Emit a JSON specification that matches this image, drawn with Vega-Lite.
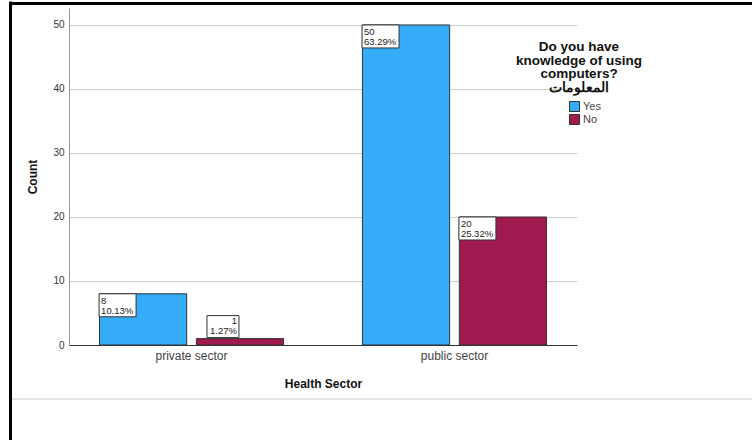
{
  "$schema": "https://vega.github.io/schema/vega-lite/v6.json",
  "width": 508,
  "height": 337,
  "autosize": {"type": "none"},
  "padding": {"left": 69, "top": 8, "right": 175, "bottom": 95},
  "background": "white",
  "config": {
    "font": "Liberation Sans",
    "view": {"stroke": null}
  },
  "data": {
    "values": [
      {"sector": "private sector", "answer": "Yes", "count": 8, "label": "8\n10.13%", "box": "inside"},
      {"sector": "private sector", "answer": "No", "count": 1, "label": "1\n1.27%", "box": "above"},
      {"sector": "public sector", "answer": "Yes", "count": 50, "label": "50\n63.29%", "box": "inside"},
      {"sector": "public sector", "answer": "No", "count": 20, "label": "20\n25.32%", "box": "inside"}
    ]
  },
  "layer": [
    {
      "encoding": {
        "x": {
          "field": "sector",
          "type": "nominal",
          "sort": ["private sector", "public sector"],
          "scale": {"paddingInner": 0.3, "paddingOuter": 0.116},
          "axis": {
            "title": "Health Sector",
            "titleFontSize": 12,
            "titleFontWeight": "bold",
            "titleColor": "#111",
            "titlePadding": 17,
            "labelAngle": 0,
            "labelFontSize": 12,
            "labelColor": "#444",
            "labelPadding": 5,
            "ticks": false,
            "domainColor": "#333",
            "domainWidth": 1
          }
        },
        "xOffset": {
          "field": "answer",
          "type": "nominal",
          "sort": ["Yes", "No"],
          "scale": {"domain": ["Yes", "No"], "paddingInner": 0.1, "paddingOuter": 0}
        },
        "y": {
          "field": "count",
          "type": "quantitative",
          "scale": {"domain": [0, 52.65], "nice": false},
          "axis": {
            "title": "Count",
            "titleFontSize": 12,
            "titleFontWeight": "bold",
            "titleColor": "#111",
            "titlePadding": 13,
            "values": [0, 10, 20, 30, 40, 50],
            "labelFontSize": 10,
            "labelColor": "#333",
            "labelPadding": 5,
            "ticks": false,
            "domainColor": "#999",
            "gridColor": "#cfcfcf",
            "gridWidth": 1
          }
        }
      },
      "layer": [
        {
          "mark": {"type": "bar", "stroke": "#333", "strokeWidth": 1},
          "encoding": {
            "color": {
              "field": "answer",
              "type": "nominal",
              "sort": ["Yes", "No"],
              "scale": {"domain": ["Yes", "No"], "range": ["#35acf8", "#a11a4f"]},
              "legend": {
                "title": ["Do you have", "knowledge of using", "computers?", "المعلومات"],
                "titleFontSize": 13.5,
                "titleFontWeight": "bold",
                "titleColor": "#111",
                "titleAlign": "center",
                "titleAnchor": "middle",
                "titleLineHeight": 13.5,
                "titlePadding": 7,
                "orient": "none",
                "legendX": 447,
                "legendY": 32,
                "symbolType": "square",
                "symbolSize": 100,
                "symbolStrokeColor": "#333",
                "symbolStrokeWidth": 1,
                "symbolOffset": 11,
                "labelFontSize": 11,
                "labelColor": "#444",
                "labelOffset": 3,
                "rowPadding": -7
              }
            }
          }
        },
        {
          "mark": {"type": "point", "filled": true, "fill": "white", "stroke": "#333", "strokeWidth": 1, "opacity": 1, "size": 4},
          "encoding": {
            "shape": {
              "field": "box",
              "type": "nominal",
              "scale": {"domain": ["inside", "above"], "range": ["M-44,0h37v23h-37z", "M-33,-23h32v22h-32z"]},
              "legend": null
            }
          }
        },
        {
          "transform": [{"filter": "datum.box == 'inside'"}],
          "mark": {"type": "text", "align": "left", "baseline": "top", "dx": -42, "dy": 2, "lineBreak": "\n", "fontSize": 9.5, "lineHeight": 10, "color": "#222"},
          "encoding": {"text": {"field": "label"}}
        },
        {
          "transform": [{"filter": "datum.box == 'above'"}],
          "mark": {"type": "text", "align": "right", "baseline": "bottom", "dx": -3, "dy": -13, "lineBreak": "\n", "fontSize": 9.5, "lineHeight": 10, "color": "#222"},
          "encoding": {"text": {"field": "label"}}
        }
      ]
    },
    {
      "data": {"values": [{}]},
      "mark": {"type": "rule", "color": "#000", "strokeWidth": 3},
      "encoding": {"x": {"value": -58.5}, "y": {"value": -6.5}, "y2": {"value": 432}}
    },
    {
      "data": {"values": [{}]},
      "mark": {"type": "rule", "color": "#000", "strokeWidth": 3},
      "encoding": {"x": {"value": -60}, "x2": {"value": 683}, "y": {"value": -4.5}}
    },
    {
      "data": {"values": [{}]},
      "mark": {"type": "rule", "color": "#c8c8c8", "strokeWidth": 1},
      "encoding": {"x": {"value": -57}, "x2": {"value": 683}, "y": {"value": 391}}
    }
  ]
}
